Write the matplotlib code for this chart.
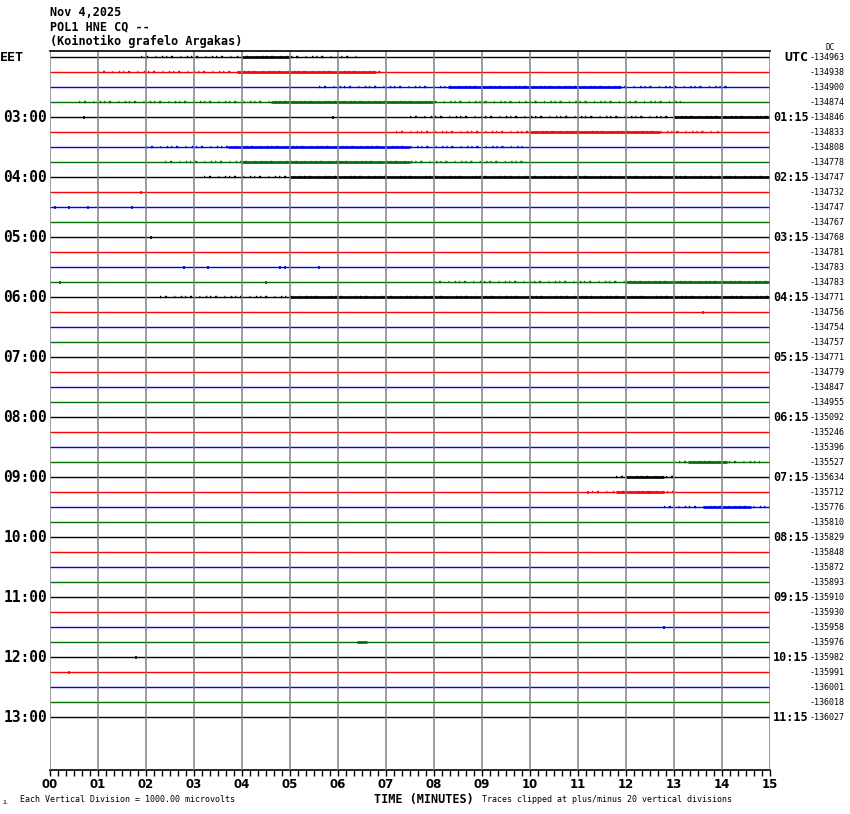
import numpy as np
import matplotlib
matplotlib.use('Agg')
import matplotlib.pyplot as plt

# header
title_lines = ['Nov 4,2025', 'POL1 HNE CQ --', '(Koinotiko grafelo Argakas)']

# one trace per 15 minutes, colours cycle
trace_colors = ['#000000', '#ff0000', '#0000ee', '#006f00']
dc_values = [-134963, -134938, -134900, -134874, -134846, -134833, -134808, -134778,
             -134747, -134732, -134747, -134767, -134768, -134781, -134783, -134783,
             -134771, -134756, -134754, -134757, -134771, -134779, -134847, -134955,
             -135092, -135246, -135396, -135527, -135634, -135712, -135776, -135810,
             -135829, -135848, -135872, -135893, -135910, -135930, -135958, -135976,
             -135982, -135991, -136001, -136018, -136027]
eet_labels = ['03:00', '04:00', '05:00', '06:00', '07:00', '08:00',
              '09:00', '10:00', '11:00', '12:00', '13:00']
utc_labels = ['01:15', '02:15', '03:15', '04:15', '05:15', '06:15',
              '07:15', '08:15', '09:15', '10:15', '11:15']
minute_labels = ['00', '01', '02', '03', '04', '05', '06', '07',
                 '08', '09', '10', '11', '12', '13', '14', '15']

# noisy stretches (trace index, start minute, end minute)
sparse_trace = [0, 1, 2, 3, 4, 5, 6, 7, 8, 15, 16, 27, 28, 29, 30]
sparse_start = [1.9, 1.0, 5.6, 0.6, 7.5, 7.2, 2.0, 2.4, 3.2, 8.0, 2.3, 13.1, 11.8, 11.3, 12.8]
sparse_end = [6.5, 7.0, 14.1, 13.2, 15.0, 14.0, 9.9, 9.9, 15.0, 15.0, 15.0, 14.8, 13.0, 13.1, 15.0]

dense_trace = [0, 1, 2, 3, 4, 5, 6, 7, 8, 15, 16, 27, 28, 29, 30, 39]
dense_start = [4.0, 3.9, 8.3, 4.6, 13.0, 10.0, 3.7, 4.0, 5.0, 12.0, 5.0, 13.3, 12.0, 11.8, 13.6, 6.4]
dense_end = [5.0, 6.8, 11.9, 8.0, 15.0, 12.7, 7.5, 7.5, 15.0, 15.0, 15.0, 14.1, 12.8, 12.8, 14.6, 6.6]

# single spikes (trace index, minute)
spike_trace = [4, 4, 9, 9, 10, 10, 10, 10, 12, 14, 14, 14, 14, 14, 15, 15, 17, 29, 29, 38, 40, 41]
spike_time = [0.7, 5.9, 1.0, 1.9, 0.1, 0.4, 0.8, 1.7, 2.1, 2.8, 3.3, 4.8, 4.9, 5.6, 0.2, 4.5, 13.6, 11.2, 12.5, 12.8, 1.8, 0.4]

fig = plt.figure(figsize=(8.5, 8.14), dpi=100)
W, H = 850.0, 814.0
ax = fig.add_axes([50 / W, 1 - 770 / H, 720 / W, 719 / H])
ax.set_xlim(0, 15)
ax.set_ylim(47.51, -0.42)

n = len(dc_values)
for i in range(n):
   c = trace_colors[i % 4]
   ax.plot([0, 15], [i, i], color=c, lw=1.0, solid_capstyle='butt', zorder=2)

# scattered noise: irregular dash pattern, solid where it is dense
for t, a, b in zip(sparse_trace, sparse_start, sparse_end):
   ax.plot([a, b], [t, t], color=trace_colors[t % 4], lw=1.7,
           linestyle=(0, (0.5, 1.6, 0.9, 3.1, 0.4, 2.3, 0.6, 1.2)), zorder=3)
for t, a, b in zip(dense_trace, dense_start, dense_end):
   ax.plot([a, b], [t, t], color=trace_colors[t % 4], lw=1.9,
           solid_capstyle='butt', zorder=3)
for t, m in zip(spike_trace, spike_time):
   ax.vlines(m, t - 0.12, t + 0.12, color=trace_colors[t % 4], lw=1.2, zorder=3)

for k in range(16):
   ax.axvline(k, color='#808080', lw=1.1, zorder=4)

for s in ['left', 'right']:
   ax.spines[s].set_visible(False)
ax.spines['top'].set_linewidth(1.2)
ax.spines['bottom'].set_linewidth(1.2)
ax.spines['top'].set_zorder(5)

ax.set_xticks(range(16))
ax.set_xticklabels(minute_labels, fontsize=8.5, fontweight='bold', family='DejaVu Sans')
ax.set_xticks(np.arange(0, 15.01, 1 / 6), minor=True)
ax.tick_params(axis='x', which='both', direction='out', length=4.5, width=1, pad=1.5)
ax.set_yticks([])

mono = 'DejaVu Sans Mono'
# header text
for j, line in enumerate(title_lines):
   fig.text(50 / W, 1 - (12 + 14.5 * j) / H, line, family=mono, fontweight='bold',
            fontsize=8.5, va='center', ha='left')

tr = ax.get_yaxis_transform()
ax.text(-50 / 720, 0, 'EET', transform=tr, family=mono, fontweight='bold',
        fontsize=9.5, ha='left', va='center')
ax.text(1 + 14 / 720, 0, 'UTC', transform=tr, family=mono, fontweight='bold',
        fontsize=9.5, ha='left', va='center')
fig.text(826 / W, 1 - 47 / H, 'DC', family=mono, fontsize=5.5,
         ha='left', va='center')

for k, lab in enumerate(eet_labels):
   row = 4 * (k + 1)
   ax.text(-3 / 720, row, lab, transform=tr, family=mono, fontweight='bold',
           fontsize=10.5, ha='right', va='center')
   ax.text(1 + 3 / 720, row, utc_labels[k], transform=tr, family=mono, fontweight='bold',
           fontsize=8.5, ha='left', va='center')

for i, v in enumerate(dc_values):
   ax.text(1 + 40 / 720, i, str(v), transform=tr, family=mono, fontsize=6,
           ha='left', va='center')

# footer
fig.text(3 / W, 1 - 802 / H, 'JL', family=mono, fontsize=3.5, va='center')
fig.text(20 / W, 1 - 800 / H, 'Each Vertical Division = 1000.00 microvolts',
         family=mono, fontsize=6, va='center', ha='left')
fig.text(424 / W, 1 - 799 / H, 'TIME (MINUTES)', family=mono, fontweight='bold',
         fontsize=8.5, va='center', ha='center')
fig.text(482 / W, 1 - 800 / H, 'Traces clipped at plus/minus 20 vertical divisions',
         family=mono, fontsize=6, va='center', ha='left')

fig.savefig('out.png', dpi=100)
